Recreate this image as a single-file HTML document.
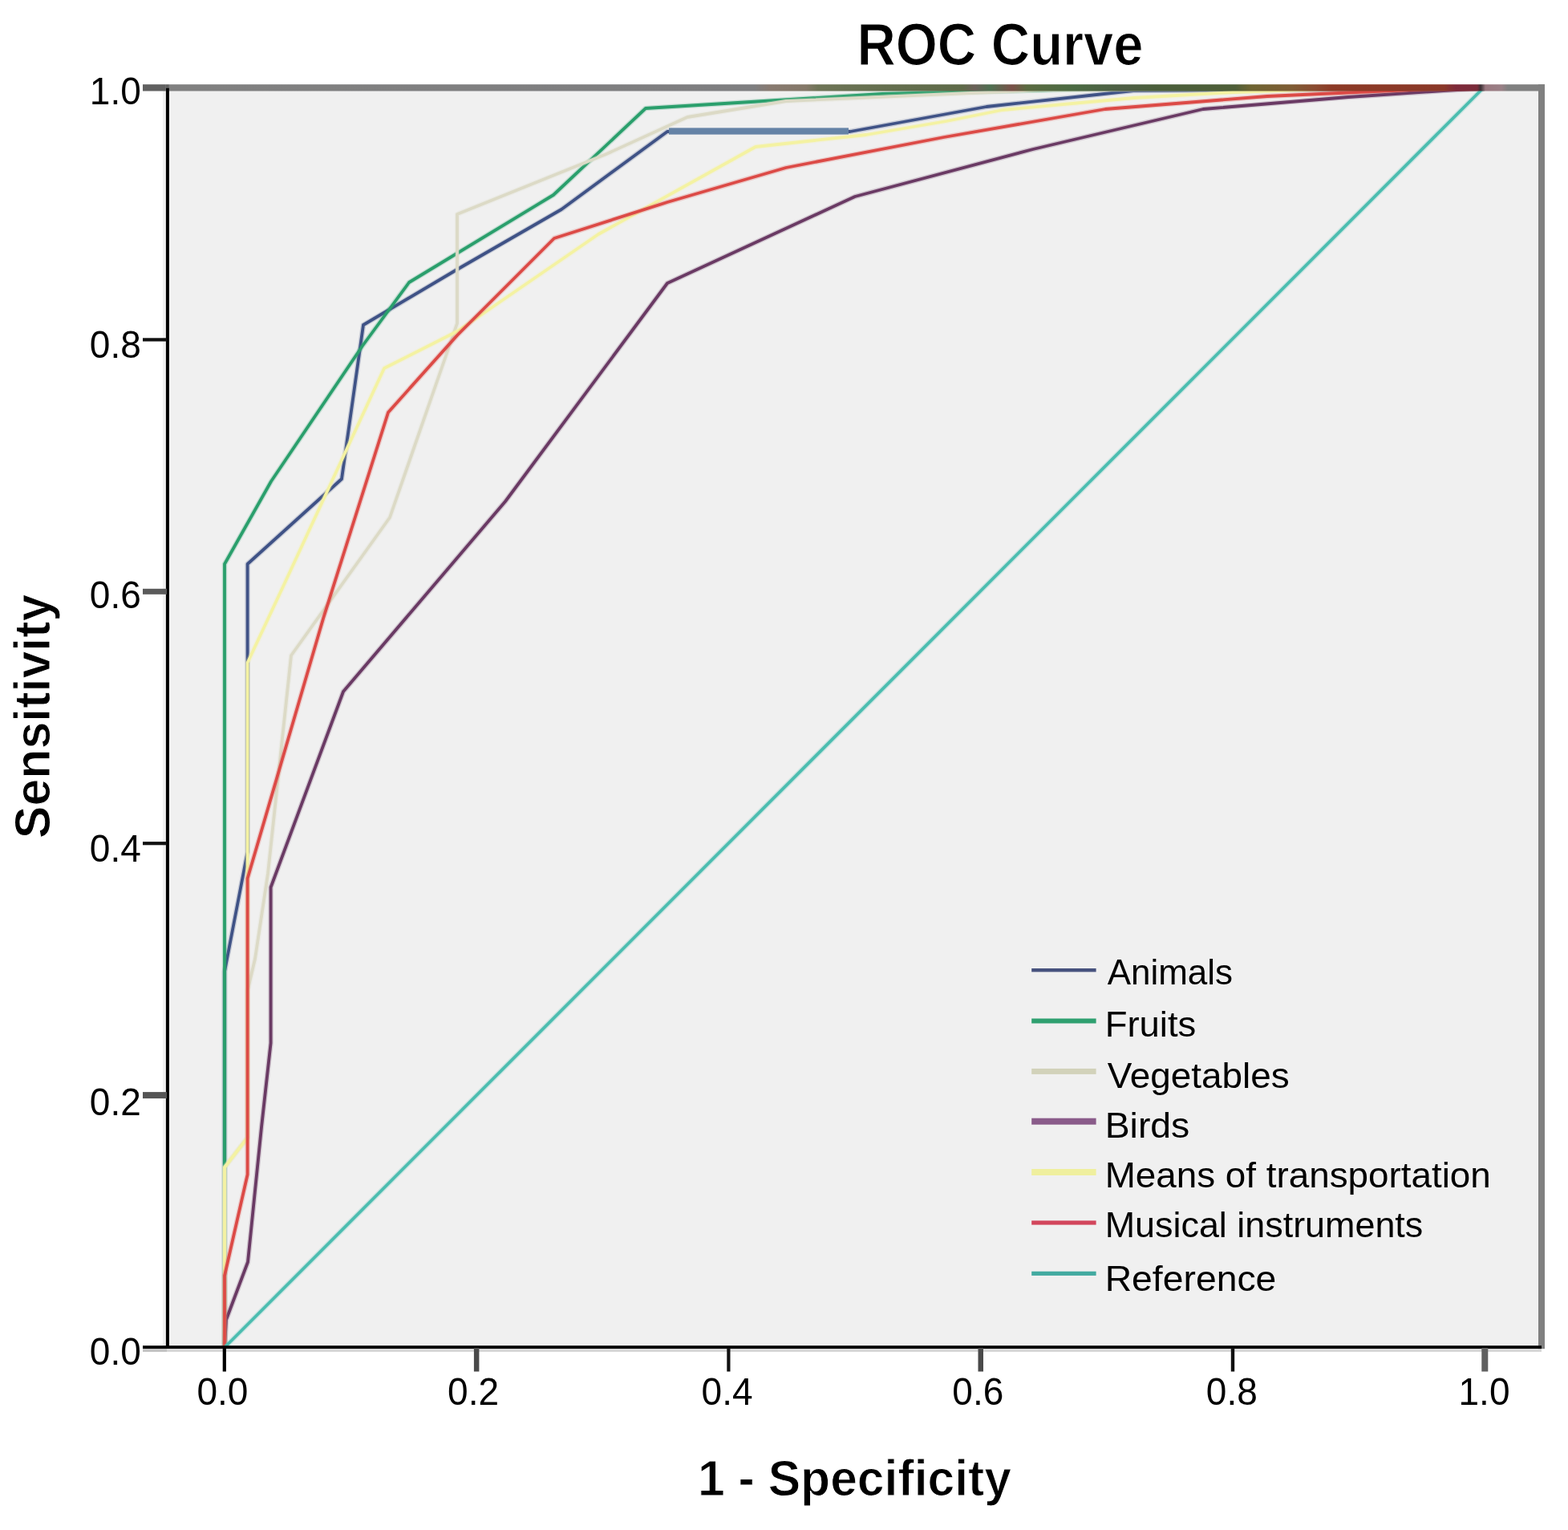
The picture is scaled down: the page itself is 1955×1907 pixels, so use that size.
<!DOCTYPE html>
<html lang="en"><head><meta charset="utf-8"><title>ROC Curve</title>
<style>
html,body{margin:0;padding:0;background:#fff;}
body{width:1955px;height:1907px;overflow:hidden;}
svg{display:block;}
text{font-family:"Liberation Sans",Arial,Helvetica,sans-serif;fill:#000;}
.b{font-weight:bold;}
</style></head><body>
<svg width="1955" height="1907" viewBox="0 0 1955 1907">

<defs><linearGradient id="tb" gradientUnits="userSpaceOnUse" x1="210" y1="0" x2="1926" y2="0">
<stop offset="0.0000" stop-color="#808080"/>
<stop offset="0.4254" stop-color="#7e7e80"/>
<stop offset="0.4371" stop-color="#887a70"/>
<stop offset="0.4633" stop-color="#847868"/>
<stop offset="0.4720" stop-color="#6e7456"/>
<stop offset="0.5070" stop-color="#667050"/>
<stop offset="0.5769" stop-color="#5e6a48"/>
<stop offset="0.5857" stop-color="#6a6058"/>
<stop offset="0.5973" stop-color="#4e7050"/>
<stop offset="0.6131" stop-color="#7a5048"/>
<stop offset="0.6235" stop-color="#5a6a40"/>
<stop offset="0.6585" stop-color="#4a6a42"/>
<stop offset="0.6935" stop-color="#4e5e44"/>
<stop offset="0.7168" stop-color="#4a5e3a"/>
<stop offset="0.7751" stop-color="#4e5e38"/>
<stop offset="0.7867" stop-color="#6e6432"/>
<stop offset="0.8159" stop-color="#7e5c34"/>
<stop offset="0.8333" stop-color="#8a4a30"/>
<stop offset="0.8450" stop-color="#8c3a26"/>
<stop offset="0.9266" stop-color="#8a3828"/>
<stop offset="0.9353" stop-color="#7e2a3a"/>
<stop offset="0.9510" stop-color="#7a2c3a"/>
<stop offset="0.9534" stop-color="#3a3034"/>
<stop offset="0.9569" stop-color="#9a7880"/>
<stop offset="0.9685" stop-color="#9a8086"/>
<stop offset="0.9732" stop-color="#808080"/>
<stop offset="1.0000" stop-color="#808080"/></linearGradient></defs>
<rect x="0" y="0" width="1955" height="1907" fill="#ffffff"/>
<rect x="203" y="109" width="1719" height="1572" fill="#f0f0f0"/>
<rect x="178" y="1681" width="30" height="4" fill="#c4c4c4"/>
<rect x="208" y="1681" width="1714" height="4" fill="#d8d8d8"/>
<rect x="1918" y="105.2" width="8" height="1576" fill="#808080"/>
<g fill="none" stroke-linejoin="round" stroke-linecap="butt">
<polyline points="280.0,1679.0 280.0,1211.0 308.6,1062.0 308.6,703.0 426.0,597.0 453.0,405.0 568.0,337.0 700.0,261.0 832.0,164.0 1060.0,164.0 1230.0,133.0 1413.0,113.0 1851.0,110.0" stroke="#3F5286" stroke-width="6.6" stroke-opacity="0.22"/>
<polyline points="280.0,1679.0 280.0,1211.0 308.6,1062.0 308.6,703.0 426.0,597.0 453.0,405.0 568.0,337.0 700.0,261.0 832.0,164.0 1060.0,164.0 1230.0,133.0 1413.0,113.0 1851.0,110.0" stroke="#3F5286" stroke-width="3.8"/>
<rect x="834" y="159.4" width="224" height="8.2" fill="#6583a6" stroke="none"/>
<polyline points="280.0,1679.0 280.0,703.0 338.0,600.0 452.0,431.0 510.0,352.0 690.0,243.0 805.0,135.0 1100.0,117.0 1400.0,110.0 1851.0,110.0" stroke="#2A9F6C" stroke-width="6.6" stroke-opacity="0.22"/>
<polyline points="280.0,1679.0 280.0,703.0 338.0,600.0 452.0,431.0 510.0,352.0 690.0,243.0 805.0,135.0 1100.0,117.0 1400.0,110.0 1851.0,110.0" stroke="#2A9F6C" stroke-width="3.8"/>
<polyline points="280.0,1679.0 280.0,1455.0 308.6,1418.0 308.6,1235.0 318.0,1195.0 334.0,1089.0 363.0,817.0 486.0,645.0 570.0,403.0 570.0,267.0 756.0,192.0 857.0,146.0 980.0,126.0 1300.0,112.0 1851.0,110.0" stroke="#DCDAC6" stroke-width="6.6" stroke-opacity="0.22"/>
<polyline points="280.0,1679.0 280.0,1455.0 308.6,1418.0 308.6,1235.0 318.0,1195.0 334.0,1089.0 363.0,817.0 486.0,645.0 570.0,403.0 570.0,267.0 756.0,192.0 857.0,146.0 980.0,126.0 1300.0,112.0 1851.0,110.0" stroke="#DCDAC6" stroke-width="3.8"/>
<polyline points="280.0,1679.0 282.0,1645.0 309.0,1573.0 326.0,1405.0 337.6,1300.0 337.6,1106.0 428.0,862.0 630.0,625.0 832.0,353.0 1066.0,245.0 1288.0,186.0 1500.0,136.0 1681.0,121.0 1800.0,113.0 1851.0,110.0" stroke="#6A3A64" stroke-width="6.6" stroke-opacity="0.22"/>
<polyline points="280.0,1679.0 282.0,1645.0 309.0,1573.0 326.0,1405.0 337.6,1300.0 337.6,1106.0 428.0,862.0 630.0,625.0 832.0,353.0 1066.0,245.0 1288.0,186.0 1500.0,136.0 1681.0,121.0 1800.0,113.0 1851.0,110.0" stroke="#6A3A64" stroke-width="3.8"/>
<polyline points="280.0,1679.0 280.0,1455.0 308.6,1418.0 308.6,826.0 353.0,731.0 479.0,459.0 570.0,413.0 746.0,292.0 942.0,183.0 1080.0,168.0 1180.0,151.0 1250.0,137.0 1414.0,122.0 1537.0,115.0 1650.0,111.0 1851.0,110.0" stroke="#F4F2A2" stroke-width="6.6" stroke-opacity="0.22"/>
<polyline points="280.0,1679.0 280.0,1455.0 308.6,1418.0 308.6,826.0 353.0,731.0 479.0,459.0 570.0,413.0 746.0,292.0 942.0,183.0 1080.0,168.0 1180.0,151.0 1250.0,137.0 1414.0,122.0 1537.0,115.0 1650.0,111.0 1851.0,110.0" stroke="#F4F2A2" stroke-width="3.8"/>
<polyline points="280.0,1679.0 280.0,1590.0 308.6,1464.0 308.6,1095.0 348.0,960.0 403.0,771.0 484.0,514.0 570.0,418.0 691.0,297.0 832.0,252.0 980.0,209.0 1177.0,171.0 1378.0,136.0 1580.0,120.0 1780.0,111.0 1851.0,110.0" stroke="#DC4A46" stroke-width="6.6" stroke-opacity="0.22"/>
<polyline points="280.0,1679.0 280.0,1590.0 308.6,1464.0 308.6,1095.0 348.0,960.0 403.0,771.0 484.0,514.0 570.0,418.0 691.0,297.0 832.0,252.0 980.0,209.0 1177.0,171.0 1378.0,136.0 1580.0,120.0 1780.0,111.0 1851.0,110.0" stroke="#DC4A46" stroke-width="3.8"/>
<polyline points="280.5,1679.0 1848.5,110.5" stroke="#4CBDB0" stroke-width="6.6" stroke-opacity="0.22"/>
<polyline points="280.5,1679.0 1848.5,110.5" stroke="#4CBDB0" stroke-width="3.8"/>
</g>
<rect x="210.8" y="105.2" width="1715.2" height="8.3" fill="url(#tb)"/>
<rect x="206.9" y="109.3" width="4" height="1571.7" fill="#000"/>
<rect x="178" y="1677.2" width="1744" height="3.8" fill="#000"/>
<rect x="178" y="1361.1" width="30" height="8.0" fill="#555"/>
<rect x="178" y="1049.1" width="30" height="4.2" fill="#111"/>
<rect x="178" y="733.8" width="30" height="7.0" fill="#5a5a5a"/>
<rect x="178" y="421.3" width="30" height="4.2" fill="#111"/>
<rect x="178" y="105.2" width="28.9" height="8.3" fill="#606060"/>
<rect x="206.9" y="105.2" width="4" height="4.1" fill="#606060"/>
<rect x="277.7" y="1680" width="4.2" height="29.5" fill="#000"/>
<rect x="590.9" y="1680" width="6.5" height="29.5" fill="#4a4a4a"/>
<rect x="906.3" y="1680" width="4.2" height="29.5" fill="#111"/>
<rect x="1219.5" y="1680" width="6.5" height="29.5" fill="#4a4a4a"/>
<rect x="1534.8" y="1680" width="4.4" height="29.5" fill="#111"/>
<rect x="1847.3" y="1680" width="8.0" height="29.5" fill="#606060"/>
<text id="xl0" x="277.4" y="1751.3" font-size="47.5" text-anchor="middle" textLength="64" lengthAdjust="spacingAndGlyphs">0.0</text>
<text id="xl2" x="590.1" y="1751.3" font-size="47.5" text-anchor="middle" textLength="64" lengthAdjust="spacingAndGlyphs">0.2</text>
<text id="xl4" x="906.6" y="1751.3" font-size="47.5" text-anchor="middle" textLength="64" lengthAdjust="spacingAndGlyphs">0.4</text>
<text id="xl6" x="1219.3" y="1751.3" font-size="47.5" text-anchor="middle" textLength="64" lengthAdjust="spacingAndGlyphs">0.6</text>
<text id="xl8" x="1535.8" y="1751.3" font-size="47.5" text-anchor="middle" textLength="64" lengthAdjust="spacingAndGlyphs">0.8</text>
<text id="xl10" x="1850.5" y="1751.3" font-size="47.5" text-anchor="middle" textLength="64" lengthAdjust="spacingAndGlyphs">1.0</text>
<text id="yl0" x="175.8" y="1701.0" font-size="47.5" text-anchor="end" textLength="64" lengthAdjust="spacingAndGlyphs">0.0</text>
<text id="yl2" x="175.8" y="1389.5" font-size="47.5" text-anchor="end" textLength="64" lengthAdjust="spacingAndGlyphs">0.2</text>
<text id="yl4" x="175.8" y="1073.8" font-size="47.5" text-anchor="end" textLength="64" lengthAdjust="spacingAndGlyphs">0.4</text>
<text id="yl6" x="175.8" y="757.8" font-size="47.5" text-anchor="end" textLength="64" lengthAdjust="spacingAndGlyphs">0.6</text>
<text id="yl8" x="175.8" y="445.8" font-size="47.5" text-anchor="end" textLength="64" lengthAdjust="spacingAndGlyphs">0.8</text>
<text id="yl10" x="175.8" y="129.8" font-size="47.5" text-anchor="end" textLength="64" lengthAdjust="spacingAndGlyphs">1.0</text>
<text class="b" x="1068.4" y="80.5" font-size="74.0" textLength="357.2" lengthAdjust="spacingAndGlyphs" stroke="#fff" stroke-width="1.2">ROC Curve</text>
<text class="b" x="870.0" y="1863.9" font-size="63.5" textLength="391.0" lengthAdjust="spacingAndGlyphs" stroke="#fff" stroke-width="1.0">1 - Specificity</text>
<text class="b" transform="translate(61.5,1045.2) rotate(-90)" font-size="63.5" textLength="304.6" lengthAdjust="spacingAndGlyphs" stroke="#fff" stroke-width="1.0">Sensitivity</text>
<rect x="1286.2" y="1207.0" width="80.4" height="4.4" fill="#47527e"/>
<text x="1380.7" y="1227.2" font-size="44.5" textLength="156.4" lengthAdjust="spacingAndGlyphs">Animals</text>
<rect x="1286.2" y="1269.5" width="80.4" height="6.0" fill="#2fa070"/>
<text x="1377.7" y="1292.1" font-size="44.5" textLength="113.6" lengthAdjust="spacingAndGlyphs">Fruits</text>
<rect x="1286.2" y="1331.9" width="80.4" height="7.0" fill="#d2d2ba"/>
<text x="1380.7" y="1355.8" font-size="44.5" textLength="227.0" lengthAdjust="spacingAndGlyphs">Vegetables</text>
<rect x="1286.2" y="1393.7" width="80.4" height="8.0" fill="#8a5c8a"/>
<text x="1377.7" y="1418.0" font-size="44.5" textLength="105.6" lengthAdjust="spacingAndGlyphs">Birds</text>
<rect x="1286.2" y="1457.0" width="80.4" height="8.0" fill="#efef9e"/>
<text x="1377.7" y="1479.7" font-size="44.5" textLength="481.1" lengthAdjust="spacingAndGlyphs">Means of transportation</text>
<rect x="1286.2" y="1521.4" width="80.4" height="5.2" fill="#d2465c"/>
<text x="1377.7" y="1542.0" font-size="44.5" textLength="396.6" lengthAdjust="spacingAndGlyphs">Musical instruments</text>
<rect x="1286.2" y="1584.7" width="80.4" height="5.2" fill="#42aaa0"/>
<text x="1377.7" y="1608.6" font-size="44.5" textLength="213.6" lengthAdjust="spacingAndGlyphs">Reference</text>
</svg></body></html>
